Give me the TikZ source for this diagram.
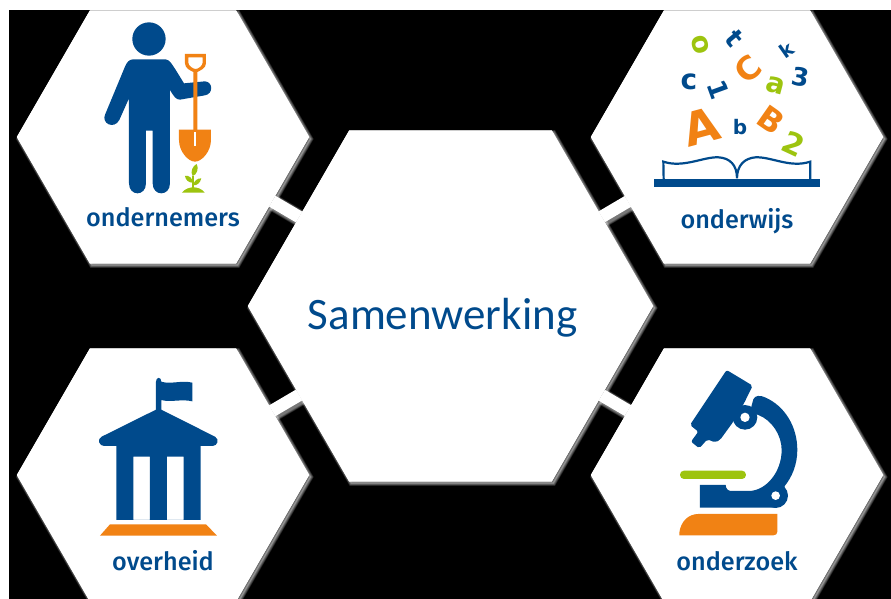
\documentclass[tikz,border=0pt]{standalone}
\usepackage{fontspec}
\setmainfont{Fira Sans Medium}
\newfontfamily\calib{Carlito}
\newfontfamily\heavy{DejaVu Sans Bold}
\usetikzlibrary{shapes.geometric}
\definecolor{nblue}{RGB}{0,74,140}
\definecolor{norange}{RGB}{241,130,20}
\definecolor{ngreen}{RGB}{157,196,15}
\tikzset{
  halo/.style={preaction={draw=white,line width=#1,opacity=.12,transform canvas={shift={(1.8pt,-2pt)}}}},
  glow/.style={halo=5pt,halo=4pt,halo=3pt,halo=2pt,halo=1pt,
    preaction={fill=white,opacity=.25,transform canvas={shift={(1.8pt,-2pt)}}}},
  hexa/.style={regular polygon,regular polygon sides=6,
    minimum size=#1,inner sep=0pt,fill=white,glow},
  bridge/.style={draw=white,line width=12.5pt,halo=17pt,halo=16pt,halo=15pt,halo=14pt,halo=13pt},
  cover/.style={fill=white},
  caption/.style={text=nblue,font=\fontsize{25.2}{25.2}\selectfont,anchor=base,inner sep=0pt},
  letter/.style={font=\heavy\fontsize{#1}{#1}\selectfont,inner sep=0pt},
}
\begin{document}
\begin{tikzpicture}[x=1pt,y=-1pt]
\useasboundingbox (0,0) rectangle (891,599);
\fill[white] (0,0) rectangle (891,599);
\fill[black] (9,10) rectangle (891,599);
\begin{scope}
\clip (9,10) rectangle (891,599);
\node[hexa=292pt] (tl) at (163,137) {};
\node[hexa=292pt] (tr) at (737,137) {};
\node[hexa=292pt] (bl) at (163,475) {};
\node[hexa=292pt] (br) at (737,475) {};
\node[hexa=405pt] (mid) at (450.5,306) {};
\draw[bridge] (tl) -- (mid);
\draw[bridge] (tr) -- (mid);
\draw[bridge] (bl) -- (mid);
\draw[bridge] (br) -- (mid);
\fill[cover] (tl.corner 1) -- (tl.corner 2) -- (tl.corner 3) -- (tl.corner 4) -- (tl.corner 5) -- (tl.corner 6) -- cycle;
\fill[cover] (tr.corner 1) -- (tr.corner 2) -- (tr.corner 3) -- (tr.corner 4) -- (tr.corner 5) -- (tr.corner 6) -- cycle;
\fill[cover] (bl.corner 1) -- (bl.corner 2) -- (bl.corner 3) -- (bl.corner 4) -- (bl.corner 5) -- (bl.corner 6) -- cycle;
\fill[cover] (br.corner 1) -- (br.corner 2) -- (br.corner 3) -- (br.corner 4) -- (br.corner 5) -- (br.corner 6) -- cycle;
\fill[cover] (mid.corner 1) -- (mid.corner 2) -- (mid.corner 3) -- (mid.corner 4) -- (mid.corner 5) -- (mid.corner 6) -- cycle;
\end{scope}
\node[text=nblue,font=\calib\fontsize{45}{45}\selectfont,anchor=base,inner sep=0pt] (title) at (442.5,329.5) {Samenwerking};
\node[caption] (c1) at (163,226.7) {ondernemers};
\node[caption] (c2) at (737,228.3) {onderwijs};
\node[caption] (c3) at (163,570.7) {overheid};
\node[caption] (c4) at (737,570.7) {onderzoek};
% person
\begin{scope}[x=.3333pt,y=-.3333pt]
\fill[nblue] (447,117) circle[radius=50];
\fill[nblue] (400,178) -- (497,178) .. controls (510,180) and (515,190) .. (552,250)
  -- (615,244) .. controls (640,246) and (640,282) .. (615,286) -- (540,299) .. controls (528,299) and (522,290) .. (510,270)
  -- (510,550) .. controls (510,590) and (458,590) .. (458,550) -- (458,392) -- (438,392) -- (438,550)
  .. controls (438,590) and (387,590) .. (387,550) -- (387,295) -- (358,360) .. controls (342,390) and (302,370) .. (316,342)
  -- (375,200) .. controls (380,187) and (388,178) .. (400,178) -- cycle;
\fill[norange,even odd rule] (555,162) -- (618,162) -- (618,190) .. controls (618,205) and (600,212) .. (592,216) -- (592,392) -- (580,392) -- (580,216)
  .. controls (572,212) and (555,205) .. (555,190) -- cycle
  (565,172) -- (608,172) -- (608,188) .. controls (608,198) and (594,207) .. (587,207) .. controls (580,207) and (565,198) .. (565,188) -- cycle;
\fill[norange] (537,389) -- (633,389) -- (633,420) .. controls (633,455) and (605,485) .. (585,485) .. controls (565,485) and (537,455) .. (537,420) -- cycle;
\fill[white] (583,396) rectangle (587,438);
\fill[ngreen] (546,578) .. controls (555,566) and (570,562) .. (580,562) .. controls (592,562) and (605,566) .. (614,578) -- cycle;
\fill[ngreen] (577,565) -- (577,528) -- (581,528) -- (581,565) -- cycle;
\fill[ngreen] (590,492) .. controls (598,505) and (590,525) .. (578,528) .. controls (570,515) and (578,498) .. (590,492) -- cycle;
\fill[ngreen] (555,528) .. controls (568,525) and (578,535) .. (578,548) .. controls (565,548) and (557,540) .. (555,528) -- cycle;
\fill[ngreen] (604,535) .. controls (600,550) and (592,556) .. (580,556) .. controls (582,542) and (592,535) .. (604,535) -- cycle;
\end{scope}
% book and letters
\begin{scope}[shift={(590,0)},x=.3333pt,y=-.3333pt]
\fill[nblue] (191,538) rectangle (689,560);
\draw[nblue,line width=2.2pt] (221,538) -- (220,485) .. controls (280,505) and (340,470) .. (385,472) .. controls (420,474) and (441,495) .. (441,535)
  .. controls (441,495) and (465,474) .. (497,472) .. controls (545,470) and (600,505) .. (661,485) -- (661,538);
\node[letter=28,text=ngreen,rotate=-75] (l1) at (331,135) {o};
\node[letter=26,text=nblue,rotate=-50] (l2) at (433,115) {t};
\node[letter=19,text=nblue,rotate=35] (l3) at (590,150) {k};
\node[letter=32,text=norange,rotate=40] (l4) at (473,208) {C};
\node[letter=28,text=nblue] (l5) at (297,245) {c};
\node[letter=26,text=nblue,rotate=-70] (l6) at (387,270) {1};
\node[letter=28,text=ngreen,rotate=-15] (l7) at (557,258) {a};
\node[letter=25,text=nblue,rotate=-10] (l8) at (632,232) {3};
\node[letter=46,text=norange,rotate=15] (l9) at (335,381) {A};
\node[letter=20,text=nblue] (l10) at (450,380) {b};
\node[letter=32,text=norange,rotate=-35] (l11) at (545,360) {B};
\node[letter=30,text=ngreen,rotate=-25] (l12) at (610,432) {2};
\end{scope}
% building
\begin{scope}[shift={(0,340)},x=.3333pt,y=-.3333pt]
\fill[nblue] (468,125) .. controls (468,110) and (484,110) .. (484,125) .. controls (510,134) and (545,120) .. (577,128) -- (577,184) .. controls (545,176) and (510,188) .. (484,180) -- (484,210) -- (468,210) -- cycle;
\fill[nblue,even odd rule] (476,205) -- (645,290) .. controls (660,298) and (652,318) .. (638,318) -- (602,318) -- (602,540) -- (349,540) -- (349,318) -- (312,318)
  .. controls (298,318) and (290,298) .. (305,290) -- cycle
  (400,350) rectangle (450,540) (501,350) rectangle (551,540);
\fill[norange] (300,587) -- (330,553) -- (618,553) -- (651,587) -- cycle;
\end{scope}
% microscope
\begin{scope}[shift={(590,340)},x=.3333pt,y=-.3333pt]
\fill[nblue,rounded corners=2pt] (410,90) -- (488,137) -- (462,190) -- (430,245) -- (390,300) -- (375,307) -- (352,298) -- (328,325) -- (303,305) -- (325,275) -- (300,255) -- cycle;
\fill[nblue] (465,232) circle[radius=37];
\fill[nblue] (490,178) .. controls (495,166) and (510,165) .. (525,172) .. controls (585,198) and (622,260) .. (622,330) .. controls (622,375) and (605,412) .. (585,437)
  -- (557,503) -- (330,503) -- (330,435) -- (407,435) .. controls (408,448) and (415,453) .. (425,453) -- (480,453)
  .. controls (530,450) and (575,395) .. (575,330) .. controls (575,285) and (545,240) .. (505,225) -- (480,215) -- cycle;
\fill[nblue] (557,467) circle[radius=37];
\fill[white] (465,232) circle[radius=14];
\fill[white] (557,467) circle[radius=13];
\fill[ngreen,rounded corners=4pt] (270,392) rectangle (468,417);
\fill[norange] (268,586) -- (268,578) .. controls (272,545) and (295,522) .. (325,522) -- (562,522) -- (562,575) .. controls (562,582) and (558,586) .. (550,586) -- cycle;
\end{scope}
\end{tikzpicture}
\end{document}
